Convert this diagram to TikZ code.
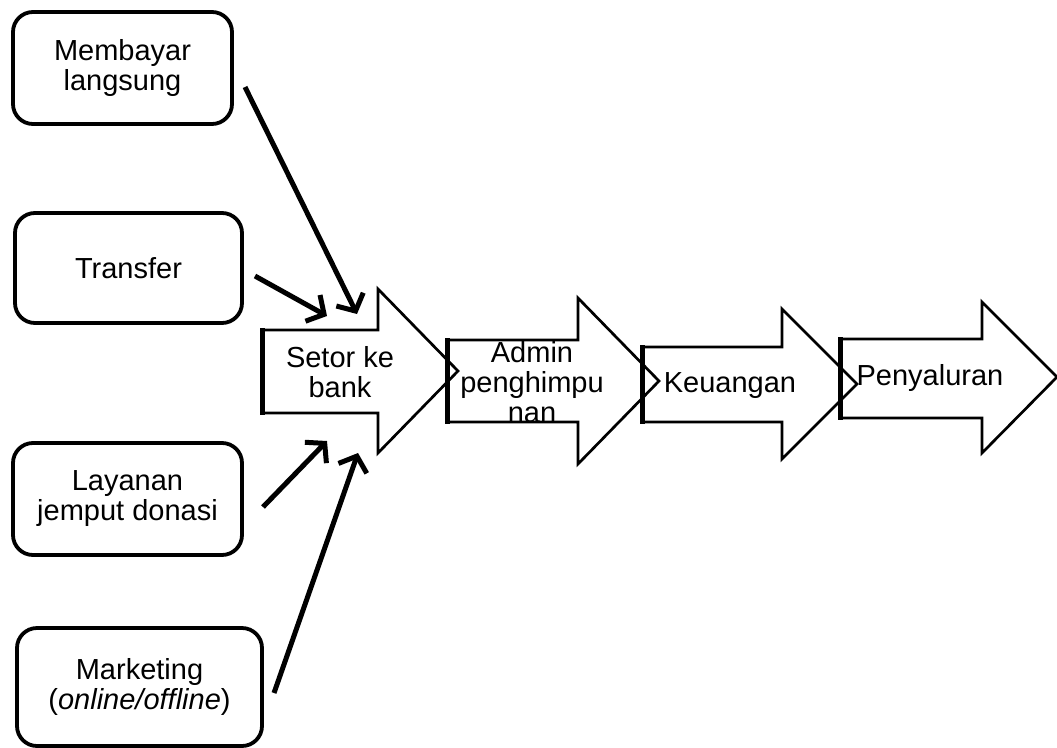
\documentclass[tikz,border=0pt]{standalone}
\usepackage{fontspec}
\setmainfont{Liberation Sans}
\usetikzlibrary{arrows.meta}
\begin{document}
\begin{tikzpicture}[x=1pt,y=-1pt,
  srcbox/.style={draw, line width=3.8pt, rounded corners=20pt, align=center, inner sep=0pt, outer sep=0pt, font=\fontsize{29}{30}\selectfont},
  lbl/.style={align=center, inner sep=0pt, font=\fontsize{29}{30}\selectfont},
  bigarrow/.style={draw, line width=2.7pt, line join=miter},
  leftedge/.style={line width=5pt},
  feed/.style={line width=5pt, -{Straight Barb[length=13pt,width=30pt,line width=5pt]}}
]
\useasboundingbox (0,0) rectangle (1057,747);
% source boxes
\node[srcbox, minimum width=219pt, minimum height=112pt] (mb) at (122.5,68) {Membayar\\langsung};
\node[srcbox, minimum width=227pt, minimum height=110pt] (tr) at (128.5,268) {Transfer};
\node[srcbox, minimum width=229pt, minimum height=112pt] (ly) at (127.5,499) {Layanan\\jemput donasi};
\node[srcbox, minimum width=245pt, minimum height=118pt] (mk) at (139.5,687) {Marketing\\(\textit{online/offline})};
% big process arrows
\draw[bigarrow] (262,330) -- (378,330) -- (378,289) -- (458,371) -- (378,453) -- (378,413) -- (262,413) -- cycle;
\draw[leftedge] (262,328) -- (262,415);
\draw[bigarrow] (447,340) -- (578,340) -- (578,298) -- (659,381) -- (578,464) -- (578,422) -- (447,422) -- cycle;
\draw[leftedge] (447,338) -- (447,424);
\draw[bigarrow] (642,347) -- (782,347) -- (782,309) -- (857,384) -- (782,459) -- (782,422) -- (642,422) -- cycle;
\draw[leftedge] (642,345) -- (642,424);
\draw[bigarrow] (840,339) -- (982,339) -- (982,302) -- (1057,377) -- (982,453) -- (982,418) -- (840,418) -- cycle;
\draw[leftedge] (840,337) -- (840,420);
% labels
\node[lbl] (setor) at (340,372) {Setor ke\\bank};
\node[lbl] (admin) at (532,382) {Admin\\penghimpu\\nan};
\node[lbl] (keu) at (730,386) {Keuangan};
\node[lbl] (pny) at (930,378) {Penyaluran};
% feed connectors
\coordinate (mbout) at (245,87);
\coordinate (trout) at (255,276);
\coordinate (lyout) at (263,507);
\coordinate (mkout) at (274,693);
\coordinate (in1) at (357,314);
\coordinate (in2) at (327,316);
\coordinate (in3) at (327,441);
\coordinate (in4) at (358,453);
\draw[feed] (mbout) -- (in1);
\draw[feed] (trout) -- (in2);
\draw[feed] (lyout) -- (in3);
\draw[feed] (mkout) -- (in4);
\end{tikzpicture}
\end{document}
